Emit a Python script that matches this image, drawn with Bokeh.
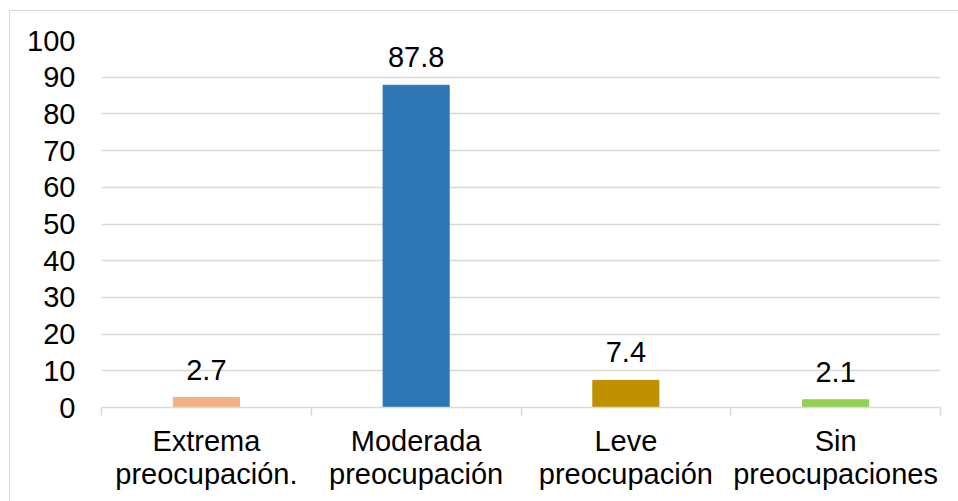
from bokeh.plotting import figure
from bokeh.models import ColumnDataSource, FixedTicker, LabelSet, Range1d
from bokeh.core.properties import value
from bokeh.embed import file_html
from bokeh.resources import INLINE

# Survey results: level of worry (percent of respondents)
categories = ["Extrema\npreocupación.", "Moderada\npreocupación", "Leve\npreocupación", "Sin\npreocupaciones"]
percentages = [2.7, 87.8, 7.4, 2.1]
bar_colors = ["#F4B183", "#2E75B6", "#BF9000", "#92D050"]
y_ticks = [0, 10, 20, 30, 40, 50, 60, 70, 80, 90, 100]

FONT = "Liberation Sans"
FONT_SIZE = "29px"
GRID = "#D9D9D9"

centers = [i + 0.5 for i in range(len(categories))]
source = ColumnDataSource(dict(
    x=centers,
    top=percentages,
    color=bar_colors,
    label=[f"{v:.1f}" for v in percentages],
))

p = figure(
    width=949, height=491,
    frame_width=839, frame_height=367,
    min_border_left=91, min_border_right=19,
    min_border_top=29, min_border_bottom=95,
    x_range=Range1d(0, len(categories)),
    y_range=Range1d(0, 100),
    output_backend="svg", toolbar_location=None,
)
p.margin = (10, 0, 0, 9)
p.styles = {"border-left": "1px solid #D9D9D9", "border-top": "1px solid #D9D9D9"}
p.outline_line_color = None
p.background_fill_color = "white"
p.border_fill_color = "white"

p.vbar(x="x", top="top", bottom=0, width=0.315, color="color", source=source)

labels = LabelSet(
    x="x", y="top", text="label", source=source,
    text_align="center", text_baseline="bottom", y_offset=18,
    text_font=value(FONT), text_font_size=value(FONT_SIZE), text_color="#000000",
)
p.add_layout(labels)

# y axis: labels only, horizontal gridlines
p.yaxis.ticker = FixedTicker(ticks=y_ticks)
p.yaxis.axis_line_color = None
p.yaxis.major_tick_line_color = None
p.yaxis.minor_tick_line_color = None
p.yaxis.major_tick_out = 0
p.yaxis.major_tick_in = 0
p.yaxis.major_label_standoff = 26
p.yaxis.major_label_text_font = FONT
p.yaxis.major_label_text_font_size = FONT_SIZE
p.yaxis.major_label_text_color = "#000000"
p.ygrid.ticker = FixedTicker(ticks=y_ticks)
p.ygrid.grid_line_color = GRID
p.ygrid.grid_line_width = 1.5

# x axis: category names centred, tick marks at category boundaries
p.xaxis.ticker = FixedTicker(ticks=centers, minor_ticks=list(range(len(categories) + 1)))
p.xaxis.major_label_overrides = {c: name for c, name in zip(centers, categories)}
p.xaxis.axis_line_color = GRID
p.xaxis.axis_line_width = 1.5
p.xaxis.major_tick_line_color = None
p.xaxis.major_tick_out = 0
p.xaxis.major_tick_in = 0
p.xaxis.minor_tick_line_color = GRID
p.xaxis.minor_tick_line_width = 1.5
p.xaxis.minor_tick_out = 8
p.xaxis.minor_tick_in = 0
p.xaxis.major_label_standoff = 9
p.xaxis.major_label_text_font = FONT
p.xaxis.major_label_text_font_size = FONT_SIZE
p.xaxis.major_label_text_color = "#000000"
p.xaxis.major_label_text_line_height = 1.04
p.xgrid.grid_line_color = None

open("out.html", "w").write(file_html(p, INLINE))
